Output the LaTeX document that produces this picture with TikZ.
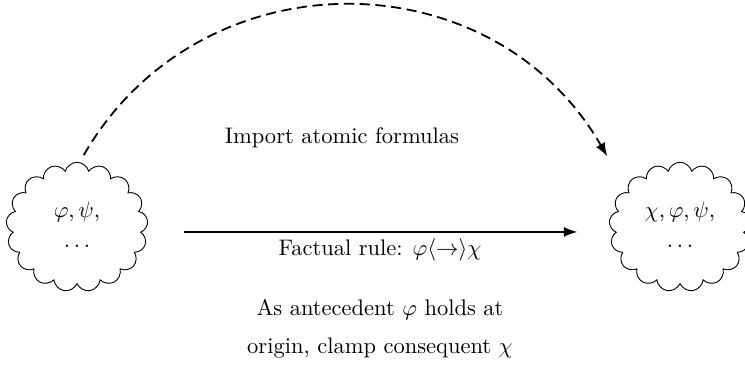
\documentclass[tikz,border=0pt]{standalone}
\usetikzlibrary{shapes.symbols,arrows.meta}
\begin{document}
\begin{tikzpicture}[x=0.4444pt,y=-0.4444pt,
  blob/.style={cloud, cloud puffs=17, draw, align=center,
    minimum width=63pt, minimum height=57.5pt, inner sep=0pt},
  conn/.style={thick,-{Latex[length=6pt,width=4.5pt]}},
  lbl/.style={inner sep=0pt, anchor=center}]
\useasboundingbox (0,0) rectangle (745,367);
\node[blob] (L) at (77,227) {\raisebox{-2.2pt}{\begin{tabular}{@{}c@{}}$\varphi,\psi,$\\[1pt]$\dots$\end{tabular}}};
\node[blob] (R) at (680,227) {\raisebox{-2.2pt}{\begin{tabular}{@{}c@{}}$\chi,\varphi,\psi,$\\[1pt]$\dots$\end{tabular}}};
\draw[conn, shorten <=16.5pt, shorten >=14.5pt] ([yshift=-2.2pt]L.east) -- ([yshift=-2.2pt]R.west);
\draw[conn, dash pattern=on 4.5pt off 2.5pt] ([xshift=3pt,yshift=3pt]L.north) .. controls (199,-45) and (491,-45) .. ([xshift=-10pt,yshift=11pt]R.north west);
\node[lbl] (t1) at (342,138) {Import atomic formulas};
\node[lbl] (t2) at (380,250) {Factual rule: $\varphi\langle{\to}\rangle\chi$};
\node[lbl] (t3) at (380,310) {As antecedent $\varphi$ holds at};
\node[lbl] (t4) at (380,348) {origin, clamp consequent $\chi$};
\end{tikzpicture}
\end{document}
